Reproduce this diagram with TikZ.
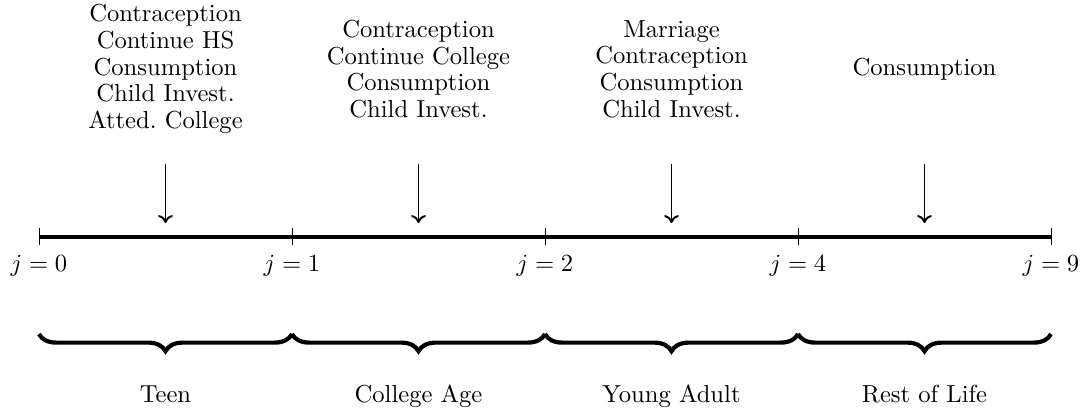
\documentclass[tikz,border=0pt]{standalone}
\usetikzlibrary{decorations.pathreplacing,arrows.meta}
\begin{document}
\begin{tikzpicture}[x=0.4065pt,y=-0.4065pt,
  lbl/.style={font=\fontsize{10}{10.85}\selectfont, align=center, inner sep=0pt},
  jlbl/.style={font=\fontsize{10}{12}\selectfont, inner sep=0pt, anchor=base},
  axisline/.style={line width=1.7pt},
  tickline/.style={line width=0.4pt},
  evarrow/.style={-{To[length=3.2pt,width=6pt]}, line width=0.8pt},
  bracestyle/.style={decorate, decoration={brace, mirror, amplitude=7pt}, line width=1.7pt}]
\useasboundingbox (0,0) rectangle (1085,415);
% axis points
\coordinate (t0) at (39,237);
\coordinate (t1) at (292,237);
\coordinate (t2) at (545,237);
\coordinate (t3) at (798,237);
\coordinate (t4) at (1051,237);
\draw[axisline] (t0) -- (t4);
\foreach \t in {t0,t1,t2,t3,t4}{
  \draw[tickline] (\t) ++(0,-9) -- ++(0,17);
}
% j labels
\node[jlbl] (j0) at (39,272) {$j=0$};
\node[jlbl] (j1) at (292,272) {$j=1$};
\node[jlbl] (j2) at (545,272) {$j=2$};
\node[jlbl] (j3) at (798,272) {$j=4$};
\node[jlbl] (j4) at (1051,272) {$j=9$};
% decision texts
\node[lbl] (d1) at (165.5,69) {Contraception\\Continue HS\\Consumption\\Child Invest.\\Atted.\ College};
\node[lbl] (d2) at (418.5,69) {Contraception\\Continue College\\Consumption\\Child Invest.};
\node[lbl] (d3) at (671.5,69) {Marriage\\Contraception\\Consumption\\Child Invest.};
\node[lbl] (d4) at (924.5,69) {Consumption};
% arrows
\foreach \i/\x in {1/165.5,2/418.5,3/671.5,4/924.5}{
  \coordinate (as\i) at (\x,164);
  \coordinate (ae\i) at (\x,223);
  \draw[evarrow] (as\i) -- (ae\i);
}
% braces
\coordinate (b0) at (39,334);
\coordinate (b1) at (292,334);
\coordinate (b2) at (545,334);
\coordinate (b3) at (798,334);
\coordinate (b4) at (1051,334);
\draw[bracestyle] (b0) -- (b1);
\draw[bracestyle] (b1) -- (b2);
\draw[bracestyle] (b2) -- (b3);
\draw[bracestyle] (b3) -- (b4);
% period labels
\node[jlbl] (p1) at (165.5,403) {Teen};
\node[jlbl] (p2) at (418.5,403) {College Age};
\node[jlbl] (p3) at (671.5,403) {Young Adult};
\node[jlbl] (p4) at (924.5,403) {Rest of Life};
\end{tikzpicture}
\end{document}
